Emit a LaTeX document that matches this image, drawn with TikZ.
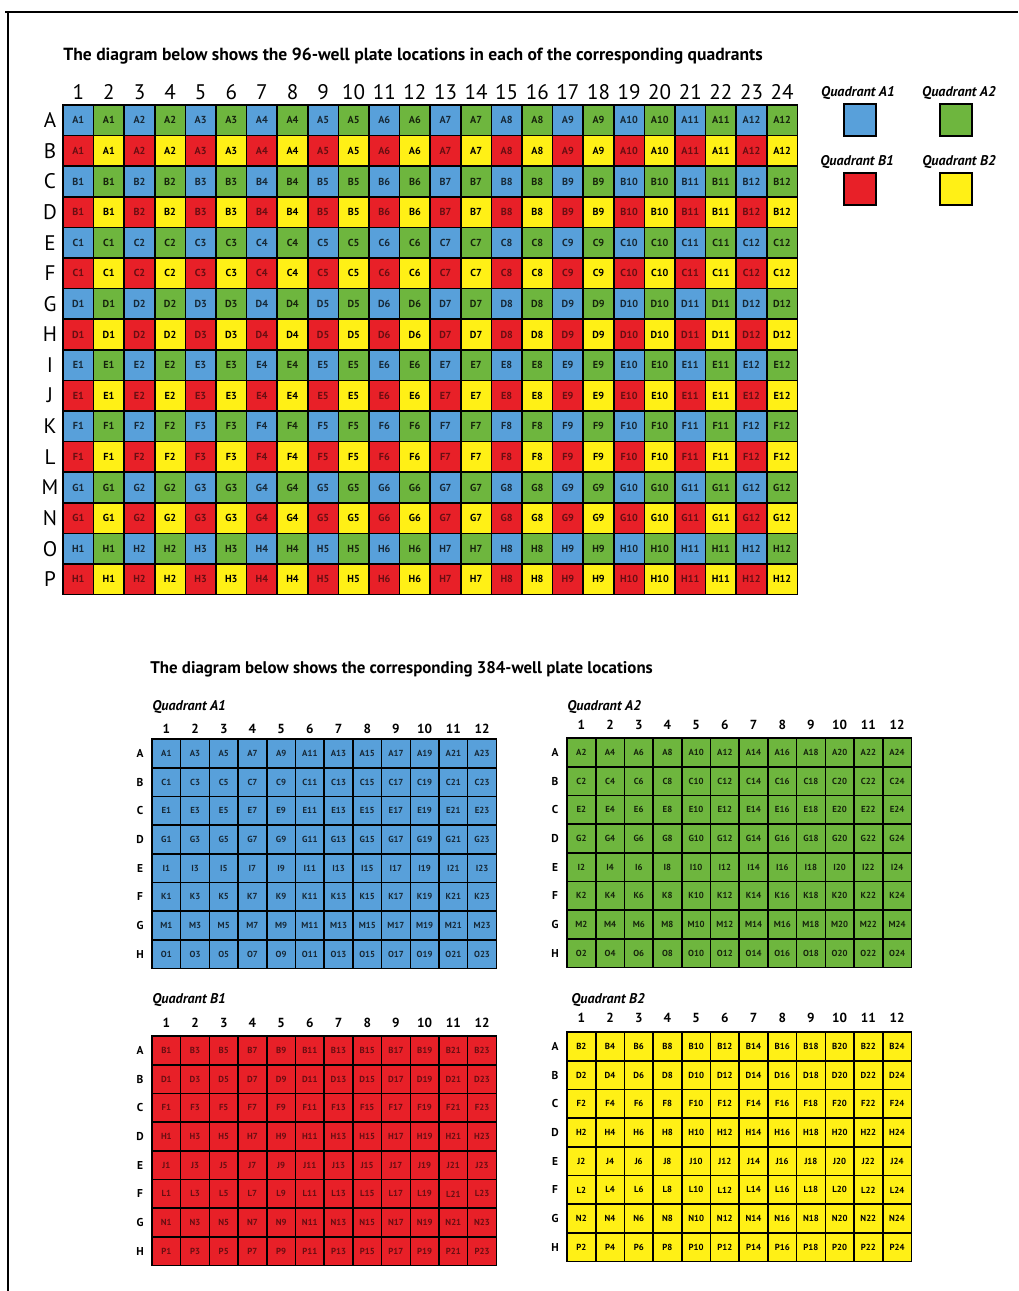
\documentclass[tikz,border=0pt]{standalone}
\usepackage{fontspec}
\setmainfont{PT Sans}
\usetikzlibrary{positioning}
\definecolor{plateblue}{RGB}{88,160,218}
\definecolor{plategreen}{RGB}{110,182,62}
\definecolor{platered}{RGB}{232,32,40}
\definecolor{plateyellow}{RGB}{255,240,22}

\begin{document}
\begin{tikzpicture}[x=0.02cm, y=-0.02cm,
  well/.style={draw, line width=1pt, minimum width=0.612cm, minimum height=0.612cm,
    inner sep=0pt, outer sep=0pt, font=\bfseries\fontsize{5.8}{5.8}\selectfont},
  qwell/.style={draw, line width=0.9pt, minimum width=0.574cm, minimum height=0.574cm,
    inner sep=0pt, outer sep=0pt, font=\bfseries\fontsize{5}{5}\selectfont},
  wA1/.style={fill=plateblue, text=plateblue!25!black},
  wA2/.style={fill=plategreen, text=plategreen!20!black},
  wB1/.style={fill=platered, text=platered!45!black},
  wB2/.style={fill=plateyellow, text=black},
  big/.style={font=\fontsize{12}{12}\selectfont},
  idx/.style={font=\bfseries\fontsize{7.5}{7.5}\selectfont},
  ttl/.style={font=\bfseries\fontsize{10}{10}\selectfont, anchor=west, inner sep=0pt},
  quad/.style={font=\bfseries\itshape\fontsize{8}{8}\selectfont, inner sep=0pt},
  swatch/.style={draw, line width=1.2pt, minimum width=0.64cm, minimum height=0.64cm}]

\useasboundingbox (0,0) rectangle (1018,1291);
\draw[line width=0.8pt] (5,12) -- (1018,12);
\draw[line width=0.8pt] (8,12) -- (8,1291);

% 384-well plate with the 96-well locations
\node[ttl] (title96) at (63,56)
  {The diagram below shows the 96-well plate locations in each of the corresponding quadrants};
\foreach \c in {1,...,24}
  \node[big] (col-\c) at ({63+(\c-0.5)*30.6},92) {\c};
\foreach \r [count=\i] in {A,...,P}
  \node[big] (row-\r) at (50,{105+(\i-0.5)*30.6}) {\r};

% legend
\node[quad] (legA1) at (858,93) {Quadrant A1};
\node[quad] (legA2) at (959,93) {Quadrant A2};
\node[quad] (legB1) at (857,162) {Quadrant B1};
\node[quad] (legB2) at (959,162) {Quadrant B2};
\node[swatch, fill=plateblue] (swA1) at (860,120) {};
\node[swatch, fill=plategreen] (swA2) at (956,120) {};
\node[swatch, fill=platered] (swB1) at (860,189) {};
\node[swatch, fill=plateyellow] (swB2) at (956,189) {};

% 96-well quadrant plates
\node[ttl, font=\bfseries\fontsize{9.6}{9.6}\selectfont] (title384) at (150,669)
  {The diagram below shows the corresponding 384-well plate locations};
\node[quad, anchor=west] (headA1) at (152,707) {Quadrant A1};
\node[quad, anchor=west] (headA2) at (567,707) {Quadrant A2};
\node[quad, anchor=west] (headB1) at (152,1000) {Quadrant B1};
\node[quad, anchor=west] (headB2) at (571,1000) {Quadrant B2};
\foreach \q/\x/\y/\h in {A1/152/739/729, A2/567/738/725, B1/152/1036/1023, B2/567/1032/1018} {
  \foreach \c in {1,...,12}
    \node[idx] (\q-col-\c) at ({\x+(\c-0.5)*28.7},\h) {\c};
  \foreach \r [count=\i] in {A,...,H}
    \node[idx, font=\bfseries\fontsize{6.5}{6.5}\selectfont] (\q-row-\r) at ({\x-12},{\y+(\i-0.5)*28.7}) {\r};
}

\foreach \L/\up/\dn [count=\k] in {A/A/B,B/C/D,C/E/F,D/G/H,E/I/J,F/K/L,G/M/N,H/O/P} {
  \foreach \n [evaluate=\n as \o using int(2*\n-1), evaluate=\n as \e using int(2*\n)] in {1,...,12} {
    \node[well, wA1] (w-\up-\o) at ({63+(\o-0.5)*30.6},{105+(2*\k-1.5)*30.6}) {\L\n};
    \node[well, wA2] (w-\up-\e) at ({63+(\e-0.5)*30.6},{105+(2*\k-1.5)*30.6}) {\L\n};
    \node[well, wB1] (w-\dn-\o) at ({63+(\o-0.5)*30.6},{105+(2*\k-0.5)*30.6}) {\L\n};
    \node[well, wB2] (w-\dn-\e) at ({63+(\e-0.5)*30.6},{105+(2*\k-0.5)*30.6}) {\L\n};
    \node[qwell, wA1] (A1-\L-\n) at ({152+(\n-0.5)*28.7},{739+(\k-0.5)*28.7}) {\up\o};
    \node[qwell, wA2] (A2-\L-\n) at ({567+(\n-0.5)*28.7},{738+(\k-0.5)*28.7}) {\up\e};
    \node[qwell, wB1] (B1-\L-\n) at ({152+(\n-0.5)*28.7},{1036+(\k-0.5)*28.7}) {\dn\o};
    \node[qwell, wB2] (B2-\L-\n) at ({567+(\n-0.5)*28.7},{1032+(\k-0.5)*28.7}) {\dn\e};
  }
}
\end{tikzpicture}
\end{document}
